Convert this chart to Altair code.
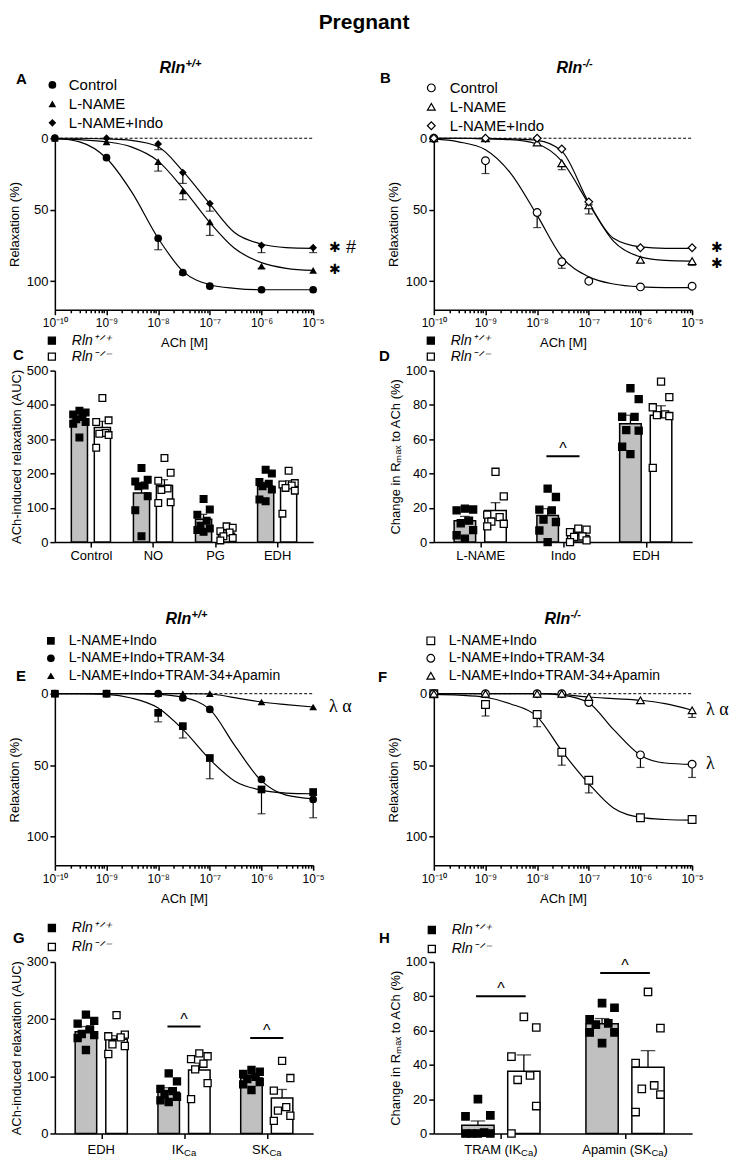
import json
import altair as alt
import pandas as pd

FONT = "Liberation Sans"
SERIF = "Liberation Serif"
W = 259

# ---------------- concentration grid ----------------
CONC = [1e-10, 1e-9, 1e-8, 3e-8, 1e-7, 1e-6, 1e-5]
FIT_CONC = [1e-10, 3e-10, 1e-9, 3e-9, 1e-8, 3e-8, 1e-7, 3e-7, 1e-6, 3e-6, 1e-5]

AB_SERIES = ["Control", "L-NAME", "L-NAME+Indo"]
EF_SERIES = ["L-NAME+Indo", "L-NAME+Indo+TRAM-34", "L-NAME+Indo+TRAM-34+Apamin"]

# ---------------- panel A (Rln+/+) ----------------
A_CONTROL_MEAN = [0, 13.6, 70, 94, 103.5, 106, 106]
A_CONTROL_SEM = [0, 1, 8, 1.5, 1, 0.5, 0.5]
A_CONTROL_FIT = [0, 2.5, 14, 37, 70, 93, 102.5, 105, 106, 106, 106]
A_LNAME_MEAN = [0, 2.5, 16.4, 36.8, 58.5, 89.5, 92.5]
A_LNAME_SEM = [0, 1, 6.6, 6.2, 9.5, 1.5, 1]
A_LNAME_FIT = [0.5, 1, 2.5, 6, 16, 35, 59, 77, 87, 91, 92.5]
A_INDO_MEAN = [0, 0, 4, 24, 45.7, 75, 76.6]
A_INDO_SEM = [0, 0, 4, 7.6, 5.3, 5, 3.4]
A_INDO_FIT = [0, 0, 0.5, 1.5, 6, 23, 46, 66, 74, 76.5, 77]

# ---------------- panel B (Rln-/-) ----------------
B_CONTROL_MEAN = [0, 15.7, 52, 86.4, 100, 104, 103.5]
B_CONTROL_SEM = [0, 9, 10.5, 4.6, 0.5, 0.5, 0.5]
B_CONTROL_FIT = [0.5, 2.5, 8, 24, 54, 83, 97, 102, 104, 104.5, 104.5]
B_LNAME_MEAN = [0, 0, 3, 17.5, 47, 85, 86]
B_LNAME_SEM = [0, 0, 0.5, 4.5, 6, 2, 3]
B_LNAME_FIT = [0, 0, 0.5, 1, 4, 16, 46, 72, 83, 85.5, 86]
B_INDO_MEAN = [0, 0, 0, 7.5, 44.5, 76.6, 76.6]
B_INDO_SEM = [0, 0, 0, 1, 2, 1, 1]
B_INDO_FIT = [0, 0, 0, 0.5, 1.5, 9, 45, 70, 76, 77, 77]

# ---------------- panel E (Rln+/+) ----------------
E_INDO_MEAN = [0, 0, 13.4, 22.7, 45, 67, 68.8]
E_INDO_SEM = [0, 0, 6.3, 8.3, 14.5, 17, 2]
E_INDO_FIT = [0, 0, 0.5, 3, 10, 25, 46, 61, 67.5, 69.5, 70]
E_TRAM_MEAN = [0, 0, 0, 3, 11, 60, 74]
E_TRAM_SEM = [0, 0, 0, 0.5, 1, 1, 12.8]
E_TRAM_FIT = [0, 0, 0, 0, 0.5, 2.5, 11, 36, 61, 71, 73.5]
E_APA_MEAN = [0, 0, 0, 0, 0, 5.8, 9.3]
E_APA_SEM = [0, 0, 0, 0, 0, 1, 1]
E_APA_FIT = [0, 0, 0, 0, 0, 0, 0.2, 2.8, 5.8, 7.6, 9.3]

# ---------------- panel F (Rln-/-) ----------------
F_INDO_MEAN = [0, 7.6, 14.6, 41, 60.6, 86.8, 88]
F_INDO_SEM = [0, 8, 8.5, 9, 8.8, 1, 1]
F_INDO_FIT = [0.5, 1, 2.5, 7, 16, 40, 63, 80, 86.5, 88, 88.5]
F_TRAM_MEAN = [0, 0, 0, 0, 6.2, 42.8, 49.3]
F_TRAM_SEM = [0, 0, 0, 0, 1, 8.8, 9.3]
F_TRAM_FIT = [0, 0, 0, 0, 0, 1, 6.5, 25, 43, 48.5, 49.5]
F_APA_MEAN = [0, 0, 0, 0, 2.3, 4.6, 11.6]
F_APA_SEM = [0, 0, 0, 0, 0.5, 0.5, 5]
F_APA_FIT = [0, 0, 0, 0, 0, 0.5, 2.3, 3.4, 4.6, 7, 11.6]

# ---------------- bar panels ----------------
GENO = ["Rln\u207a\u141f\u207a", "Rln\u207b\u141f\u207b"]

C_CATS = ["Control", "NO", "PG", "EDH"]
C_WT_MEAN = [355, 143, 67, 163]
C_WT_SEM = [8, 21, 14, 11]
C_KO_MEAN = [334, 165, 26, 165]
C_KO_SEM = [18, 17, 7, 14]
C_WT_PTS = [[383, 378, 372, 365, 358, 350, 345, 305], [216, 182, 177, 165, 163, 134, 93, 17],
            [126, 95, 80, 62, 48, 40, 35, 30], [211, 200, 175, 170, 163, 153, 124, 119]]
C_KO_PTS = [[420, 355, 350, 318, 316, 312, 275], [245, 202, 179, 156, 152, 116, 114],
            [46, 42, 32, 28, 17, 12, 5], [208, 172, 168, 165, 158, 150, 83]]

D_CATS = ["L-NAME", "Indo", "EDH"]
D_WT_MEAN = [12.5, 15.5, 69]
D_WT_SEM = [2.5, 4, 5]
D_KO_MEAN = [18.5, 3.8, 74]
D_KO_SEM = [4.5, 1.3, 5.5]
D_WT_PTS = [[19.5, 19, 18.5, 12.5, 11, 7, 4, 2], [31.2, 26.3, 18.9, 18.5, 13.1, 11.7, 6.8, 0],
            [89.7, 83.4, 73.1, 73, 65.3, 65, 55.6, 51.3]]
D_KO_PTS = [[41, 26.7, 16, 14.6, 12, 10.7, 9.2], [7.8, 7.3, 5.8, 3.3, 3, 1, 0],
            [93.6, 84.5, 78.6, 74.5, 74, 73.5, 43.3]]
D_SIG_CATS = ["Indo"]
D_SIG_Y = [50]

G_CATS = ["EDH", "IK", "SK"]
G_SUBS = ["", "Ca", "Ca"]
G_TAILS = ["", "", ""]
G_WT_MEAN = [178, 72, 97]
G_WT_SEM = [9, 8, 6]
G_KO_MEAN = [165, 111, 62]
G_KO_SEM = [6, 12, 15]
G_WT_PTS = [[208, 197, 192, 182, 174, 172, 167, 146], [105, 91, 78, 74, 69, 64, 58, 55],
            [111, 108, 104, 99, 95, 90, 86, 76]]
G_KO_PTS = [[207, 173, 170, 168, 156, 153, 139], [140, 135, 130, 122, 112, 88, 60],
            [127, 97, 75, 46, 40, 31, 22]]
G_SIG_CATS = ["IK", "SK"]
G_SIG_Y = [187, 167]

H_CATS = ["TRAM (IK", "Apamin (SK"]
H_SUBS = ["Ca", "Ca"]
H_TAILS = [")", ")"]
H_WT_MEAN = [4.8, 64]
H_WT_SEM = [2.5, 3]
H_KO_MEAN = [36.3, 38.6]
H_KO_SEM = [9.5, 9.7]
H_WT_PTS = [[20, 10.5, 10, 0.5, 0, 0, 0, 0], [76, 73.3, 66.6, 64.2, 63.5, 58.9, 58.9, 52.7]]
H_KO_PTS = [[68, 61.8, 44.8, 33.8, 31.3, 16, 0], [82.5, 61.4, 41, 28, 26, 22.7, 12.5]]
H_SIG_CATS = ["TRAM (IK", "Apamin (SK"]
H_SIG_Y = [80, 93.5]

# ---------------- helpers ----------------
ONE = pd.DataFrame({"k": [0]})
JIT = [0, 1, -1, 0.5, -0.5, 1, -1, 0]
ARIAL = {"E": .667, "D": .722, "H": .722, "I": .278, "K": .667, "S": .667, "C": .722, "T": .611,
         "R": .722, "A": .667, "M": .833, "a": .556, "p": .556, "m": .833, "i": .222, "n": .556,
         "(": .333, ")": .333, " ": .278}


def js(a):
    return json.dumps(a, ensure_ascii=False)


def tw(s, size):
    return sum(ARIAL.get(ch, 0.6) for ch in s) * size


def T(s, x, y, size, font=FONT, weight="normal", style="normal", align="left"):
    return alt.Chart(ONE).mark_text(text=s, font=font, fontSize=size, fontWeight=weight,
                                    fontStyle=style, align=align, baseline="alphabetic",
                                    color="black").encode(x=alt.value(x), y=alt.value(y))


DEC = "round(log(datum.value)/LN10)"
DEC_TEST = f"abs(log(datum.value)/LN10 - {DEC}) < 0.01"
SUP = {-10: "\u207b\u00b9\u2070", -9: "\u207b\u2079", -8: "\u207b\u2078", -7: "\u207b\u2077",
       -6: "\u207b\u2076", -5: "\u207b\u2075"}
_inner = "''"
for e in sorted(SUP):
    _inner = f"({DEC} == {e} ? '10{SUP[e]}' : {_inner})"
XLABEL_EXPR = f"({DEC_TEST}) ? {_inner} : ''"
XTICKS = [k * 10.0 ** e for e in range(-10, -5) for k in range(1, 10)] + [1e-5]


def curve_panel(series, means, sems, fits, shapes, hollow, off, leg, letter, title, notes):
    h = off + 172
    pts = pd.DataFrame([{"conc": c, "series": s, "mean": m, "sem": e}
                        for s, ms, es in zip(series, means, sems) for c, m, e in zip(CONC, ms, es)])
    fit = pd.DataFrame([{"conc": c, "series": s, "val": v}
                        for s, vs in zip(series, fits) for c, v in zip(FIT_CONC, vs)])
    xscale = alt.Scale(type="log", domain=[1e-10, 1e-5], nice=False)
    yscale = alt.Scale(domain=[0, 120], range=[off, off + 172], nice=False, zero=False)
    xaxis = alt.Axis(values=XTICKS, labelExpr=XLABEL_EXPR,
                     tickSize={"condition": {"test": DEC_TEST, "value": 5}, "value": 3},
                     labelFlush=False, labelOverlap=False, labelPadding=3, labelFontSize=12,
                     title="ACh [M]", titlePadding=8)
    yaxis = alt.Axis(values=[0, 50, 100], title="Relaxation (%)", tickSize=5, labelPadding=2,
                     titlePadding=5, labelFontSize=13)

    def X(f):
        return alt.X(f, type="quantitative", scale=xscale, axis=xaxis)

    def Y(f):
        return alt.Y(f, type="quantitative", scale=yscale, axis=yaxis)

    def Yd(v):
        return alt.Y(datum=v, type="quantitative", scale=yscale, axis=yaxis)

    zero = alt.Chart(ONE).mark_rule(color="black", strokeDash=[3, 2], strokeWidth=1).encode(
        x=alt.X(datum=1e-10, type="quantitative", scale=xscale, axis=xaxis),
        x2=alt.X2(datum=1e-5), y=Yd(0))
    lines = alt.Chart(fit).mark_line(color="black", strokeWidth=1.2, interpolate="monotone").encode(
        x=X("conc"), y=Y("val"), detail="series:N")
    err = alt.Chart(pts).transform_filter("datum.sem > 1").transform_calculate(
        hi="datum.mean + datum.sem").mark_rule(color="black", strokeWidth=1.2).encode(
        x=X("conc"), y=Y("mean"), y2="hi:Q")
    cap = alt.Chart(pts).transform_filter("datum.sem > 1").transform_calculate(
        hi="datum.mean + datum.sem").mark_tick(orient="horizontal", size=8, thickness=1.2,
                                               color="black").encode(x=X("conc"), y=Y("hi"))
    legend = alt.Legend(orient="none", legendX=leg[0], legendY=leg[1], title=None, direction="vertical",
                        labelFont=FONT, labelFontSize=leg[2], labelColor="black", labelLimit=400,
                        symbolSize=60, rowPadding=leg[3], labelOffset=leg[4], padding=0,
                        symbolStrokeWidth=1.2)
    shape = alt.Shape("series:N", scale=alt.Scale(domain=series, range=shapes), legend=legend)
    if hollow:
        points = alt.Chart(pts).mark_point(filled=False, fill="white", fillOpacity=1, strokeWidth=1.2,
                                           size=60, opacity=1).encode(
            x=X("conc"), y=Y("mean"), shape=shape,
            stroke=alt.Stroke("series:N", scale=alt.Scale(domain=series, range=["black"] * len(series)),
                              legend=legend))
    else:
        points = alt.Chart(pts).mark_point(filled=True, color="black", size=60, opacity=1).encode(
            x=X("conc"), y=Y("mean"), shape=shape)
    layers = [zero, lines, err, cap, points]
    for (s, x, v, font, size) in notes:
        layers.append(alt.Chart(ONE).mark_text(text=s, font=font, fontSize=size, align="left",
                                               baseline="middle", color="black").encode(
            x=alt.value(x), y=Yd(v)))
    layers.append(T(letter[0], letter[1], letter[2], 15, weight="bold"))
    tm, ts, tx, ty = title
    layers.append(T(tm, tx, ty, 16, weight="bold", style="italic"))
    layers.append(T(ts, tx + 26, ty - 6, 11, weight="bold", style="italic"))
    return layers, h


def bar_panel(cats, wt_mean, wt_sem, ko_mean, ko_sem, wt_pts, ko_pts, ymax, ystep, ytitle, off,
              leg, letter, sig_cats, sig_y, subs=None, tails=None, ptsize=45):
    n = len(cats)
    h = off + 172
    step = W / n
    barw = 0.25 * step
    capw = 0.45 * barw
    cat_js = js(cats)
    gen_js = js(GENO)
    OFF = 0.185
    means = pd.DataFrame([{"cat": c, "geno": GENO[0], "mean": m, "sem": s}
                          for c, m, s in zip(cats, wt_mean, wt_sem)] +
                         [{"cat": c, "geno": GENO[1], "mean": m, "sem": s}
                          for c, m, s in zip(cats, ko_mean, ko_sem)])
    pts = pd.DataFrame([{"cat": c, "geno": GENO[0], "val": v} for c, vs in zip(cats, wt_pts) for v in vs] +
                       [{"cat": c, "geno": GENO[1], "val": v} for c, vs in zip(cats, ko_pts) for v in vs])
    sig = pd.DataFrame({"cat": sig_cats, "y": sig_y})
    xscale = alt.Scale(domain=[-0.5, n - 0.5], nice=False, zero=False)
    custom = subs is not None
    xaxis = alt.Axis(values=list(range(n)), labelExpr=f"{cat_js}[datum.value]", labels=not custom,
                     title=None, tickSize=5, labelPadding=2, labelFontSize=13, labelAngle=0,
                     labelFlush=False)
    yscale = alt.Scale(domain=[0, ymax], range=[off + 172, off], nice=False, zero=False)
    yaxis = alt.Axis(values=list(range(0, ymax + 1, ystep)), title=ytitle, tickSize=5,
                     labelPadding=2, titlePadding=3, labelFontSize=13)

    def X(f):
        return alt.X(f, type="quantitative", scale=xscale, axis=xaxis)

    def Y(f):
        return alt.Y(f, type="quantitative", scale=yscale, axis=yaxis)

    idx = f"indexof({cat_js}, datum.cat)"
    xoff = f"datum.idx + (indexof({gen_js}, datum.geno) == 0 ? -{OFF} : {OFF})"

    def base(df):
        return alt.Chart(df).transform_calculate(idx=idx).transform_calculate(xpos=xoff)

    bars = base(means).mark_bar(size=barw, stroke="black", strokeWidth=1.5, orient="vertical").encode(
        x=X("xpos"), y=Y("mean"), y2=alt.Y2(datum=0),
        color=alt.condition(f"datum.geno == '{GENO[0]}'", alt.value("#c0c0c0"), alt.value("white")))
    err = base(means).transform_calculate(hi="datum.mean + datum.sem").mark_rule(
        color="black", strokeWidth=1.3).encode(x=X("xpos"), y=Y("mean"), y2="hi:Q")
    cap = base(means).transform_calculate(hi="datum.mean + datum.sem").mark_tick(
        orient="horizontal", size=capw, thickness=1.3, color="black").encode(x=X("xpos"), y=Y("hi"))
    legend = alt.Legend(orient="none", legendX=leg[0], legendY=leg[1], title=None, direction="vertical",
                        labelFont=FONT, labelFontSize=14, labelFontStyle="italic", labelColor="black",
                        labelLimit=400, symbolType="square", symbolSize=50, symbolStrokeColor="black",
                        symbolStrokeWidth=1.3, rowPadding=leg[2], labelOffset=leg[3], padding=0)
    points = base(pts).transform_window(
        rn="row_number()", groupby=["cat", "geno"], sort=[alt.SortField("val", order="descending")]
    ).transform_calculate(xj=f"datum.xpos + {js(JIT)}[datum.rn - 1] * 0.1").mark_point(
        shape="square", filled=True, size=ptsize, stroke="black", strokeWidth=1.3, opacity=1).encode(
        x=X("xj"), y=Y("val"),
        fill=alt.Fill("geno:N", scale=alt.Scale(domain=GENO, range=["black", "white"]), legend=legend))
    sig_line = alt.Chart(sig).transform_calculate(idx=idx).transform_calculate(
        xa="datum.idx - 0.2", xb="datum.idx + 0.2").mark_rule(color="black", strokeWidth=2).encode(
        x=X("xa"), x2="xb:Q", y=Y("y"))
    sig_txt = alt.Chart(sig).transform_calculate(idx=idx).mark_text(
        text="^", font=FONT, fontSize=16, align="center", baseline="alphabetic", dy=-2,
        color="black").encode(x=X("idx"), y=Y("y"))
    layers = [bars, err, cap, points, sig_line, sig_txt]
    if custom:
        for i, (m, s, t) in enumerate(zip(cats, subs, tails)):
            mw, sw, tw_ = tw(m, 13), tw(s, 9.5), tw(t, 13)
            left = -(mw + sw + tw_) / 2
            xd = alt.X(datum=i, type="quantitative", scale=xscale, axis=xaxis)
            layers.append(alt.Chart(ONE).mark_text(text=m, font=FONT, fontSize=13, align="left",
                                                   dx=left, color="black").encode(x=xd, y=alt.value(h + 17)))
            if s:
                layers.append(alt.Chart(ONE).mark_text(text=s, font=FONT, fontSize=9.5, align="left",
                                                       dx=left + mw, color="black").encode(
                    x=xd, y=alt.value(h + 20)))
            if t:
                layers.append(alt.Chart(ONE).mark_text(text=t, font=FONT, fontSize=13, align="left",
                                                       dx=left + mw + sw, color="black").encode(
                    x=xd, y=alt.value(h + 17)))
    layers.append(T(letter[0], letter[1], letter[2], 15, weight="bold"))
    return layers, h


def panel(layers, h):
    return alt.layer(*layers).properties(width=W, height=h)


# ---------------- build panels ----------------
OFF0, OFF1, OFF2, OFF3 = 78, 61, 152, 97

la, ha = curve_panel(AB_SERIES, [A_CONTROL_MEAN, A_LNAME_MEAN, A_INDO_MEAN],
                     [A_CONTROL_SEM, A_LNAME_SEM, A_INDO_SEM], [A_CONTROL_FIT, A_LNAME_FIT, A_INDO_FIT],
                     ["circle", "triangle-up", "diamond"], False, OFF0, (-10, 17, 15, 3, 9),
                     ("A", -39, 24), ("Rln", "+/+", 105, 13),
                     [("\u2731", 275, 77, "DejaVu Sans", 14), ("#", 292, 77, FONT, 18),
                      ("\u2731", 275, 92, "DejaVu Sans", 14)])
la.append(T("Pregnant", 310, -32, 21, weight="bold", align="center"))
lb, hb = curve_panel(AB_SERIES, [B_CONTROL_MEAN, B_LNAME_MEAN, B_INDO_MEAN],
                     [B_CONTROL_SEM, B_LNAME_SEM, B_INDO_SEM], [B_CONTROL_FIT, B_LNAME_FIT, B_INDO_FIT],
                     ["circle", "triangle-up", "diamond"], True, OFF0, (-10, 20, 15, 3, 11),
                     ("B", -54, 23), ("Rln", "-/-", 123, 13),
                     [("\u2731", 278, 76.5, "DejaVu Sans", 14), ("\u2731", 278, 88, "DejaVu Sans", 14)])
le, he = curve_panel(EF_SERIES, [E_INDO_MEAN, E_TRAM_MEAN, E_APA_MEAN],
                     [E_INDO_SEM, E_TRAM_SEM, E_APA_SEM], [E_INDO_FIT, E_TRAM_FIT, E_APA_FIT],
                     ["square", "circle", "triangle-up"], False, OFF2, (-11, 92, 14, 3.5, 11),
                     ("E", -39, 139), ("Rln", "+/+", 111, 82),
                     [("\u03bb \u03b1", 275, 9, SERIF, 18)])
lf, hf = curve_panel(EF_SERIES, [F_INDO_MEAN, F_TRAM_MEAN, F_APA_MEAN],
                     [F_INDO_SEM, F_TRAM_SEM, F_APA_SEM], [F_INDO_FIT, F_TRAM_FIT, F_APA_FIT],
                     ["square", "circle", "triangle-up"], True, OFF2, (-10, 92, 14, 3.5, 11),
                     ("F", -56, 140), ("Rln", "-/-", 111, 82),
                     [("\u03bb \u03b1", 273, 11.5, SERIF, 18), ("\u03bb", 273, 49.5, SERIF, 18)])

lc, hc = bar_panel(C_CATS, C_WT_MEAN, C_WT_SEM, C_KO_MEAN, C_KO_SEM, C_WT_PTS, C_KO_PTS, 500, 100,
                   "ACh-induced relaxation (AUC)", OFF1, (-10, 24, 2, 13), ("C", -42, 50), [], [])
ld, hd = bar_panel(D_CATS, D_WT_MEAN, D_WT_SEM, D_KO_MEAN, D_KO_SEM, D_WT_PTS, D_KO_PTS, 100, 20,
                   "Change in R\u2098\u2090\u2093 to ACh (%)", OFF1, (-10, 24, 2, 13), ("D", -55, 51),
                   D_SIG_CATS, D_SIG_Y, ptsize=50)
lg, hg = bar_panel(G_CATS, G_WT_MEAN, G_WT_SEM, G_KO_MEAN, G_KO_SEM, G_WT_PTS, G_KO_PTS, 300, 100,
                   "ACh-induced relaxation (AUC)", OFF3, (-10, 56, 5, 13), ("G", -42, 78),
                   G_SIG_CATS, G_SIG_Y, subs=G_SUBS, tails=G_TAILS, ptsize=50)
lh, hh = bar_panel(H_CATS, H_WT_MEAN, H_WT_SEM, H_KO_MEAN, H_KO_SEM, H_WT_PTS, H_KO_PTS, 100, 20,
                   "Change in R\u2098\u2090\u2093 to ACh (%)", OFF3, (-9, 58, 5, 13), ("H", -55, 78),
                   H_SIG_CATS, H_SIG_Y, subs=H_SUBS, tails=H_TAILS, ptsize=55)

cells = [panel(la, ha), panel(lb, hb), panel(lc, hc), panel(ld, hd),
         panel(le, he), panel(lf, hf), panel(lg, hg), panel(lh, hh)]

chart = alt.concat(*cells, columns=2, spacing={"row": 0, "column": 121}, bounds="flush", align="each")
chart = chart.resolve_scale(x="independent", y="independent", shape="independent",
                            fill="independent", stroke="independent").resolve_legend(
    shape="independent", fill="independent", stroke="independent")
chart = chart.properties(padding={"left": 0, "top": 2, "right": 0, "bottom": 0})
chart = chart.configure_view(strokeWidth=0).configure_axis(
    domainColor="black", domainWidth=1.5, tickColor="black", tickWidth=1.5, labelColor="black",
    labelFont=FONT, titleFont=FONT, titleFontSize=13, titleFontWeight="normal", titleColor="black",
    grid=False)

chart.save("out.html", embed_options={"renderer": "svg", "actions": False})
